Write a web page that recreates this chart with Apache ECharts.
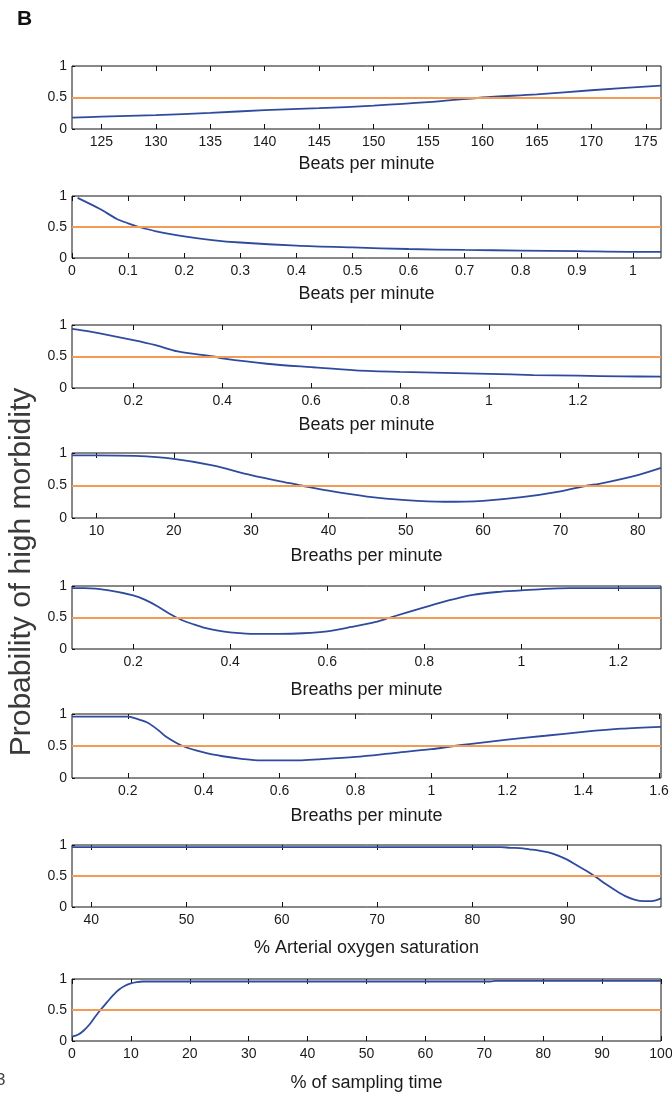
<!DOCTYPE html>
<html>
<head>
<meta charset="utf-8">
<title>Probability of high morbidity</title>
<script src="https://cdn.jsdelivr.net/npm/echarts@6/dist/echarts.min.js"></script>
<style>
  body { margin: 0; background: #fff; }
  #chart { width: 672px; height: 1095px; }
</style>
</head>
<body>
<div id="chart"></div>
<script>
// panel 1 - heart rate
var p1X = [122.3, 125, 130, 135, 140, 145, 150, 155, 160, 165, 170, 176.4];
var p1Y = [0.18, 0.195, 0.22, 0.255, 0.30, 0.33, 0.37, 0.425, 0.50, 0.55, 0.615, 0.69];
var p1Ticks = [125, 130, 135, 140, 145, 150, 155, 160, 165, 170, 175];

// panel 2
var p2X = [0.01, 0.05, 0.08, 0.1, 0.12, 0.15, 0.2, 0.25, 0.3, 0.4, 0.5, 0.6, 0.7, 0.8, 0.9, 1.0, 1.05];
var p2Y = [0.97, 0.79, 0.63, 0.56, 0.50, 0.43, 0.35, 0.29, 0.25, 0.20, 0.17, 0.145, 0.13, 0.12, 0.11, 0.10, 0.10];
var p2Ticks = [0, 0.1, 0.2, 0.3, 0.4, 0.5, 0.6, 0.7, 0.8, 0.9, 1];

// panel 3
var p3X = [0.062, 0.1, 0.2, 0.25, 0.3, 0.38, 0.4, 0.5, 0.6, 0.7, 0.8, 0.9, 1.0, 1.1, 1.2, 1.3, 1.387];
var p3Y = [0.94, 0.90, 0.76, 0.68, 0.58, 0.50, 0.47, 0.385, 0.33, 0.28, 0.255, 0.24, 0.225, 0.205, 0.195, 0.185, 0.18];
var p3Ticks = [0.2, 0.4, 0.6, 0.8, 1, 1.2];

// panel 4 - breaths
var p4X = [6.84, 10, 15, 20, 25, 30, 35, 36.5, 40, 45, 50, 55, 60, 65, 70, 73.5, 75, 80, 83];
var p4Y = [0.965, 0.965, 0.955, 0.91, 0.81, 0.66, 0.535, 0.50, 0.42, 0.33, 0.275, 0.25, 0.265, 0.32, 0.41, 0.50, 0.525, 0.66, 0.77];
var p4Ticks = [10, 20, 30, 40, 50, 60, 70, 80];

// panel 5
var p5X = [0.074, 0.1, 0.15, 0.2, 0.225, 0.25, 0.275, 0.3, 0.325, 0.35, 0.375, 0.4, 0.45, 0.5, 0.55, 0.6, 0.65, 0.7, 0.73, 0.8, 0.85, 0.9, 0.95, 1.0, 1.05, 1.1, 1.288];
var p5Y = [0.965, 0.965, 0.93, 0.85, 0.78, 0.68, 0.56, 0.46, 0.39, 0.33, 0.29, 0.265, 0.24, 0.24, 0.25, 0.28, 0.35, 0.43, 0.50, 0.66, 0.77, 0.86, 0.905, 0.93, 0.955, 0.965, 0.965];
var p5Ticks = [0.2, 0.4, 0.6, 0.8, 1, 1.2];

// panel 6
var p6X = [0.053, 0.2, 0.22, 0.25, 0.28, 0.3, 0.345, 0.4, 0.45, 0.5, 0.55, 0.6, 0.65, 0.7, 0.8, 0.9, 1.0, 1.06, 1.1, 1.2, 1.3, 1.4, 1.5, 1.605];
var p6Y = [0.96, 0.96, 0.93, 0.87, 0.75, 0.65, 0.50, 0.40, 0.34, 0.30, 0.275, 0.275, 0.275, 0.29, 0.33, 0.39, 0.45, 0.50, 0.53, 0.60, 0.66, 0.72, 0.77, 0.80];
var p6Ticks = [0.2, 0.4, 0.6, 0.8, 1, 1.2, 1.4, 1.6];

// panel 7 - SpO2
var p7X = [37.97, 50, 60, 70, 83, 84, 85, 86, 87, 88, 89, 90, 91, 92, 93, 94, 95, 96, 97, 98, 99, 99.8];
var p7Y = [0.965, 0.965, 0.965, 0.965, 0.965, 0.955, 0.95, 0.93, 0.91, 0.88, 0.83, 0.76, 0.67, 0.58, 0.48, 0.37, 0.27, 0.18, 0.12, 0.095, 0.10, 0.14];
var p7Ticks = [40, 50, 60, 70, 80, 90];

// panel 8 - sampling time
var p8X = [0, 1, 2, 3, 4, 5, 6, 7, 8, 9, 10, 11, 12, 13, 71, 72, 100];
var p8Y = [0.07, 0.10, 0.17, 0.27, 0.40, 0.52, 0.63, 0.74, 0.83, 0.89, 0.93, 0.95, 0.96, 0.96, 0.96, 0.97, 0.97];
var p8Ticks = [0, 10, 20, 30, 40, 50, 60, 70, 80, 90, 100];

var yTicks = [0, 0.5, 1];
var xTitles = ['Beats per minute', 'Beats per minute', 'Beats per minute', 'Breaths per minute',
  'Breaths per minute', 'Breaths per minute', '% Arterial oxygen saturation', '% of sampling time'];
var threshold = 0.5;

var panels = [
  { x: p1X, y: p1Y, ticks: p1Ticks, min: 122.3, max: 176.4, top: 66, bottom: 129, gap: 26 },
  { x: p2X, y: p2Y, ticks: p2Ticks, min: 0, max: 1.05, top: 196, bottom: 258, gap: 27 },
  { x: p3X, y: p3Y, ticks: p3Ticks, min: 0.062, max: 1.387, top: 325, bottom: 388, gap: 28 },
  { x: p4X, y: p4Y, ticks: p4Ticks, min: 6.84, max: 83, top: 453, bottom: 518, gap: 29 },
  { x: p5X, y: p5Y, ticks: p5Ticks, min: 0.074, max: 1.288, top: 586, bottom: 649, gap: 32 },
  { x: p6X, y: p6Y, ticks: p6Ticks, min: 0.053, max: 1.605, top: 714, bottom: 778, gap: 29 },
  { x: p7X, y: p7Y, ticks: p7Ticks, min: 37.97, max: 99.8, top: 845, bottom: 907, gap: 32 },
  { x: p8X, y: p8Y, ticks: p8Ticks, min: 0, max: 100, top: 979, bottom: 1041, gap: 33 }
];

var font = "'Liberation Sans Narrow', 'Liberation Sans', Arial, sans-serif";
var grids = [], xAxes = [], yAxes = [], series = [];

panels.forEach(function (p, i) {
  grids.push({
    left: 72, right: 11, top: p.top, height: p.bottom - p.top,
    outerBoundsMode: 'none', containLabel: false,
    show: true, borderColor: '#111', borderWidth: 1
  });
  // bottom axis with labels
  xAxes.push({
    type: 'value', gridIndex: i, min: p.min, max: p.max,
    axisLine: { show: false },
    axisTick: { inside: true, length: 5, customValues: p.ticks, lineStyle: { color: '#111' } },
    axisLabel: { customValues: p.ticks, fontSize: 14, color: '#1a1a1a', margin: 6, fontFamily: font },
    splitLine: { show: false },
    name: xTitles[i], nameLocation: 'middle', nameGap: p.gap,
    nameTextStyle: { fontSize: 18, color: '#1a1a1a', fontFamily: font }
  });
  // top axis, ticks only
  xAxes.push({
    type: 'value', gridIndex: i, min: p.min, max: p.max, position: 'top',
    axisLine: { show: false },
    axisTick: { inside: true, length: 5, customValues: p.ticks, lineStyle: { color: '#111' } },
    axisLabel: { show: false },
    splitLine: { show: false }
  });
  yAxes.push({
    type: 'value', gridIndex: i, min: 0, max: 1, interval: 0.5,
    axisLine: { show: false },
    axisTick: { inside: true, length: 3, lineStyle: { color: '#111' } },
    axisLabel: { fontSize: 14, color: '#1a1a1a', margin: 5, fontFamily: font },
    splitLine: { show: false }
  });
  series.push({
    type: 'line', xAxisIndex: i * 2, yAxisIndex: i,
    data: p.x.map(function (v, k) { return [v, p.y[k]]; }),
    showSymbol: false, smooth: 0.3,
    lineStyle: { color: '#2e4b9e', width: 1.8 },
    markLine: {
      silent: true, symbol: 'none', label: { show: false },
      lineStyle: { color: '#f39a55', width: 1.8, type: 'solid' },
      data: [{ yAxis: threshold }]
    },
    z: 3
  });
});

var myChart = echarts.init(document.getElementById('chart'));
myChart.setOption({
  backgroundColor: '#fff',
  animation: false,
  grid: grids,
  xAxis: xAxes,
  yAxis: yAxes,
  series: series,
  graphic: [
    { type: 'text', left: 17, top: 9, style: { text: 'B', font: 'bold 21px Arial, sans-serif', fill: '#111' } },
    { type: 'text', left: -4, top: 1072, style: { text: '3', font: '17px Arial, sans-serif', fill: '#444' } },
    {
      type: 'text', x: 22, y: 572, rotation: Math.PI / 2,
      style: {
        text: 'Probability of high morbidity', font: '30px "Liberation Sans", Arial, sans-serif',
        fill: '#3a3a3a', textAlign: 'center', textVerticalAlign: 'middle'
      }
    }
  ]
});
</script>
</body>
</html>
